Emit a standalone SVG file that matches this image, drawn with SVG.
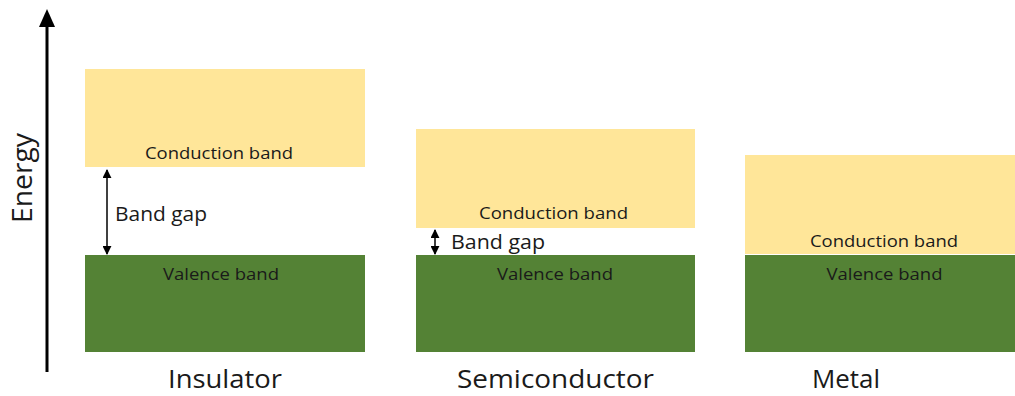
<svg xmlns="http://www.w3.org/2000/svg" width="1015" height="396" viewBox="0 0 1015 396">
  <style>
    .cb { fill: #FFE699; }
    .vb { fill: #548235; }
    .band { font-family: "Open Sans", "Liberation Sans", sans-serif; font-size: 16px; fill: #1a1a1a; text-anchor: middle; }
    .gap { font-family: "Open Sans", "Liberation Sans", sans-serif; font-size: 20px; fill: #1a1a1a; }
    .title { font-family: "Open Sans", "Liberation Sans", sans-serif; font-size: 25px; fill: #1a1a1a; text-anchor: middle; }
    .line { stroke: #000; stroke-width: 1.5; fill: none; }
  </style>
  <defs>
    <marker id="head" viewBox="0 0 10 10" refX="9" refY="5" markerWidth="6" markerHeight="6" orient="auto-start-reverse">
      <path d="M0,0 L10,5 L0,10 z" fill="#000"/>
    </marker>
  </defs>

  <!-- energy axis -->
  <g id="axis">
    <line x1="47" y1="372" x2="47" y2="26" stroke="#000" stroke-width="3"/>
    <path d="M39,27 L47,9 L55,27 z" fill="#000"/>
    <text class="title" style="font-size:27px" transform="translate(32,178) rotate(-90)" textLength="90" lengthAdjust="spacingAndGlyphs">Energy</text>
  </g>

  <!-- insulator -->
  <g id="insulator">
    <rect class="cb" x="85" y="69" width="280" height="98"/>
    <rect class="vb" x="85" y="255" width="280" height="97"/>
    <text class="band" x="219" y="159" textLength="148" lengthAdjust="spacingAndGlyphs">Conduction band</text>
    <text class="band" x="221" y="280" textLength="116" lengthAdjust="spacingAndGlyphs">Valence band</text>
    <text class="gap" x="115" y="221" textLength="92" lengthAdjust="spacingAndGlyphs">Band gap</text>
    <text class="title" x="225" y="388" textLength="114" lengthAdjust="spacingAndGlyphs">Insulator</text>
  </g>

  <!-- semiconductor -->
  <g id="semiconductor">
    <rect class="cb" x="416" y="129" width="279" height="99"/>
    <rect class="vb" x="416" y="255" width="279" height="97"/>
    <text class="band" x="553.5" y="219" textLength="149" lengthAdjust="spacingAndGlyphs">Conduction band</text>
    <text class="band" x="555" y="280" textLength="116" lengthAdjust="spacingAndGlyphs">Valence band</text>
    <text class="gap" x="451" y="249" textLength="94" lengthAdjust="spacingAndGlyphs">Band gap</text>
    <text class="title" x="555.5" y="388" textLength="197" lengthAdjust="spacingAndGlyphs">Semiconductor</text>
  </g>

  <!-- metal -->
  <g id="metal">
    <rect class="cb" x="745" y="155" width="270" height="99"/>
    <rect class="vb" x="745" y="255" width="270" height="97"/>
    <text class="band" x="884" y="247" textLength="148" lengthAdjust="spacingAndGlyphs">Conduction band</text>
    <text class="band" x="884.5" y="280" textLength="116" lengthAdjust="spacingAndGlyphs">Valence band</text>
    <text class="title" x="846" y="388" textLength="68" lengthAdjust="spacingAndGlyphs">Metal</text>
  </g>

  <!-- band gap arrows -->
  <g id="connectors">
    <line class="line" x1="107" y1="170" x2="107" y2="254" marker-start="url(#head)" marker-end="url(#head)"/>
    <line class="line" x1="435" y1="230" x2="435" y2="254" marker-start="url(#head)" marker-end="url(#head)"/>
  </g>
</svg>
